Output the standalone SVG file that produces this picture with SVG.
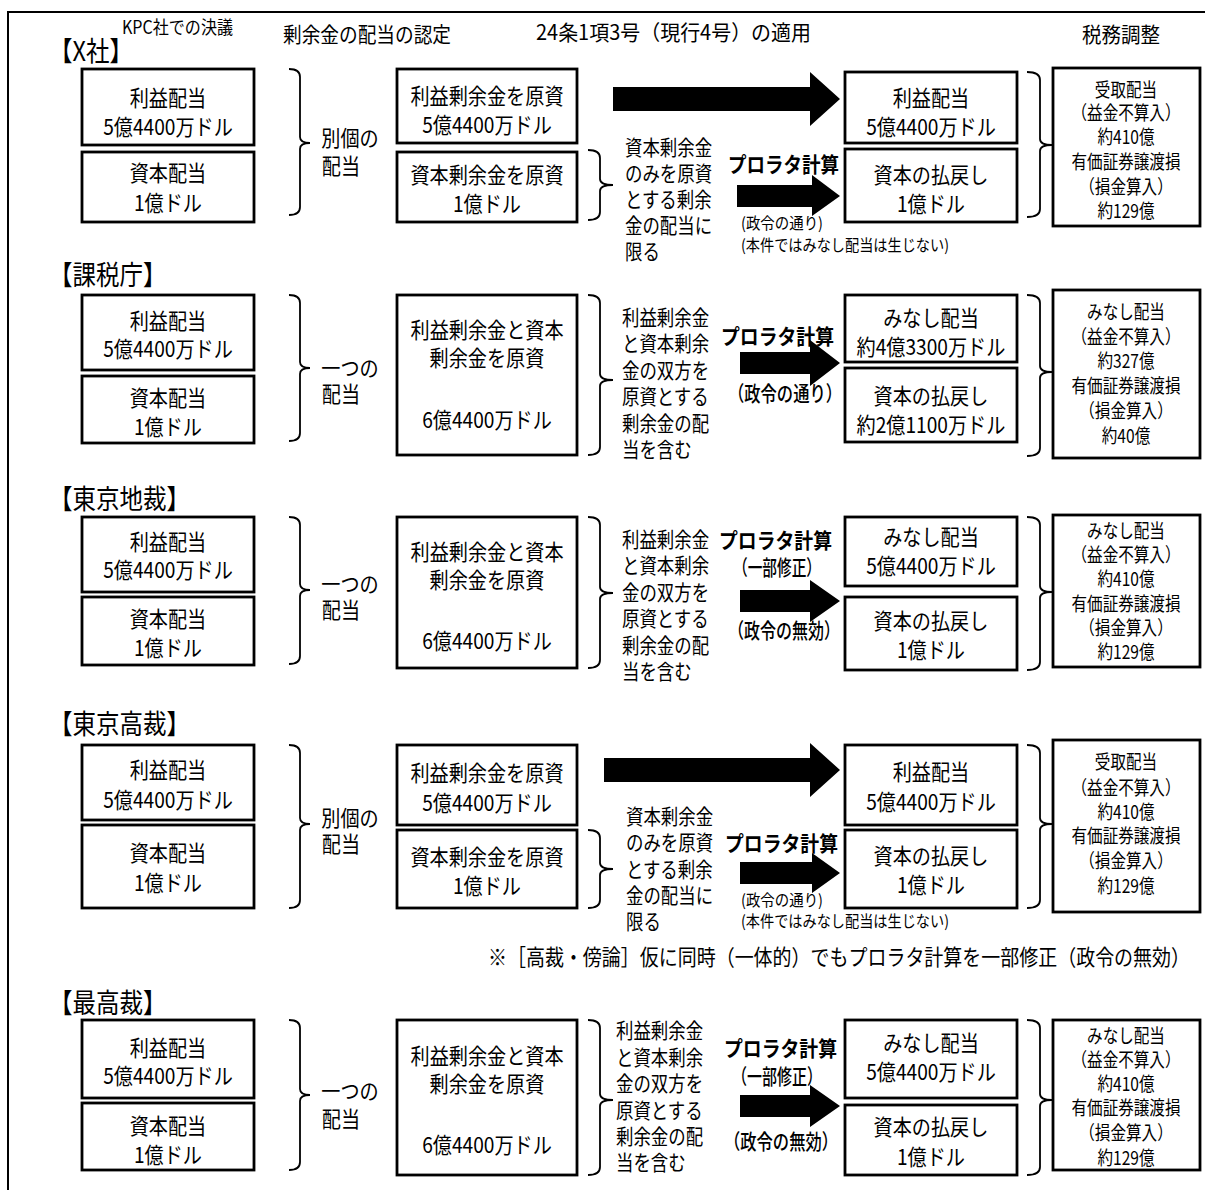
<svg xmlns="http://www.w3.org/2000/svg" width="1205" height="1190" viewBox="0 0 1205 1190">
<style>
text{font-family:"Noto Sans CJK JP","Noto Sans",sans-serif;fill:#000}
.frame{fill:none;stroke:#000;stroke-width:2}
.box{fill:#fff;stroke:#000;stroke-width:2.8}
.br{fill:none;stroke:#000;stroke-width:1.8}
.ar{fill:#000}
.bt{font-size:22px;text-anchor:middle;transform-box:fill-box;transform-origin:center;transform:scaleX(.87)}
.st{font-size:21px;transform-box:fill-box;transform-origin:left;transform:scaleX(.83)}
.tx{font-size:19px;text-anchor:middle;transform-box:fill-box;transform-origin:center;transform:scaleX(.82)}
.tt{font-size:27px;transform-box:fill-box;transform-origin:left;transform:scaleX(.87)}
.hd{font-size:21px}
.kp{font-size:18px}
.pr{font-size:21px;font-weight:700}
.md{font-size:21px;font-weight:500}
.sm{font-size:16px}
.nt{font-size:22px}
</style>
<path class="frame" d="M8,1190 V12 H1205"/>
<g id="headers">
<text class="kp" x="122" y="34" textLength="111" lengthAdjust="spacingAndGlyphs">KPC社での決議</text>
<text class="hd" x="283" y="42" textLength="168" lengthAdjust="spacingAndGlyphs">剰余金の配当の認定</text>
<text class="hd" x="536" y="40" textLength="275" lengthAdjust="spacingAndGlyphs">24条1項3号（現行4号）の適用</text>
<text class="hd" x="1082" y="42" textLength="78" lengthAdjust="spacingAndGlyphs">税務調整</text>
</g>
<g id="connectors">
<!-- row 1 -->
<path class="br" d="M289,69 Q300,69 300,77 V137 Q300,143 310,143 Q300,143 300,149 V207 Q300,215 289,215"/>
<path class="br" d="M588,150 Q600,150 600,158 V179 Q600,185 613,185 Q600,185 600,191 V212 Q600,220 588,220"/>
<path class="br" d="M1027,72 Q1040,72 1040,80 V139 Q1040,145 1052,145 Q1040,145 1040,151 V209 Q1040,217 1027,217"/>
<polygon class="ar" points="613,87 810,87 810,72 840,99 810,126 810,111 613,111"/>
<polygon class="ar" points="737,185 812,185 812,175 840,196 812,216 812,207 737,207"/>
<!-- row 2 -->
<path class="br" d="M289,295 Q300,295 300,303 V362 Q300,368 310,368 Q300,368 300,374 V433 Q300,441 289,441"/>
<path class="br" d="M588,295 Q600,295 600,303 V374 Q600,380 613,380 Q600,380 600,386 V447 Q600,455 588,455"/>
<path class="br" d="M1027,295 Q1040,295 1040,303 V366 Q1040,372 1052,372 Q1040,372 1040,378 V448 Q1040,456 1027,456"/>
<polygon class="ar" points="740,352 810,352 810,340 840,363 810,386 810,374 740,374"/>
<!-- row 3 -->
<path class="br" d="M289,517 Q300,517 300,525 V584 Q300,590 310,590 Q300,590 300,596 V656 Q300,664 289,664"/>
<path class="br" d="M588,517 Q600,517 600,525 V587 Q600,593 613,593 Q600,593 600,599 V660 Q600,668 588,668"/>
<path class="br" d="M1027,517 Q1040,517 1040,525 V586 Q1040,592 1052,592 Q1040,592 1040,598 V662 Q1040,670 1027,670"/>
<polygon class="ar" points="740,590 810,590 810,580 840,601 810,622 810,612 740,612"/>
<!-- row 4 -->
<path class="br" d="M289,745 Q300,745 300,753 V818 Q300,824 310,824 Q300,824 300,830 V900 Q300,908 289,908"/>
<path class="br" d="M588,830 Q600,830 600,838 V863 Q600,869 613,869 Q600,869 600,875 V900 Q600,908 588,908"/>
<path class="br" d="M1027,745 Q1040,745 1040,753 V818 Q1040,824 1052,824 Q1040,824 1040,830 V900 Q1040,908 1027,908"/>
<polygon class="ar" points="604,758 810,758 810,743 840,770 810,797 810,782 604,782"/>
<polygon class="ar" points="740,862 812,862 812,853 840,873 812,893 812,884 740,884"/>
<!-- row 5 -->
<path class="br" d="M289,1020 Q300,1020 300,1028 V1089 Q300,1095 310,1095 Q300,1095 300,1101 V1162 Q300,1170 289,1170"/>
<path class="br" d="M588,1020 Q600,1020 600,1028 V1094 Q600,1100 613,1100 Q600,1100 600,1106 V1167 Q600,1175 588,1175"/>
<path class="br" d="M1027,1020 Q1040,1020 1040,1028 V1094 Q1040,1100 1052,1100 Q1040,1100 1040,1106 V1167 Q1040,1175 1027,1175"/>
<polygon class="ar" points="740,1095 810,1095 810,1085 840,1106 810,1127 810,1117 740,1117"/>
</g>

<!-- ROW 1 : X社 -->
<g id="r1-title"><text class="tt" x="49" y="61">【X社】</text></g>
<g id="r1-l1"><rect class="box" x="82" y="69" width="172" height="76"/><text class="bt" x="168" y="106">利益配当</text><text class="bt" x="168" y="135">5億4400万ドル</text></g>
<g id="r1-l2"><rect class="box" x="82" y="152" width="172" height="70"/><text class="bt" x="168" y="181">資本配当</text><text class="bt" x="168" y="211">1億ドル</text></g>
<g id="r1-kind"><text class="bt" x="350" y="146">別個の</text><text class="bt" x="341" y="174">配当</text></g>
<g id="r1-m1"><rect class="box" x="397" y="69" width="180" height="74"/><text class="bt" x="487" y="104">利益剰余金を原資</text><text class="bt" x="487" y="133">5億4400万ドル</text></g>
<g id="r1-m2"><rect class="box" x="397" y="152" width="180" height="70"/><text class="bt" x="487" y="183">資本剰余金を原資</text><text class="bt" x="487" y="212">1億ドル</text></g>
<g id="r1-side"><text class="st" x="625" y="155">資本剰余金</text><text class="st" x="625" y="181">のみを原資</text><text class="st" x="625" y="207">とする剰余</text><text class="st" x="625" y="233">金の配当に</text><text class="st" x="625" y="259">限る</text></g>
<g id="r1-pro"><text class="pr" x="728" y="172" textLength="111" lengthAdjust="spacingAndGlyphs">プロラタ計算</text>
<text class="sm" x="741" y="229" textLength="82" lengthAdjust="spacingAndGlyphs">(政令の通り)</text>
<text class="sm" x="741" y="251" textLength="208" lengthAdjust="spacingAndGlyphs">(本件ではみなし配当は生じない)</text></g>
<g id="r1-r1"><rect class="box" x="845" y="72" width="172" height="71"/><text class="bt" x="931" y="106">利益配当</text><text class="bt" x="931" y="135">5億4400万ドル</text></g>
<g id="r1-r2"><rect class="box" x="845" y="149" width="172" height="73"/><text class="bt" x="931" y="183">資本の払戻し</text><text class="bt" x="931" y="212">1億ドル</text></g>
<g id="r1-tax"><rect class="box" x="1053" y="68" width="147" height="158"/>
<text class="tx" x="1126" y="97">受取配当</text><text class="tx" x="1126" y="120">（益金不算入）</text><text class="tx" x="1126" y="144">約410億</text><text class="tx" x="1126" y="169">有価証券譲渡損</text><text class="tx" x="1126" y="194">（損金算入）</text><text class="tx" x="1126" y="218">約129億</text></g>

<!-- ROW 2 : 課税庁 -->
<g id="r2-title"><text class="tt" x="49" y="285">【課税庁】</text></g>
<g id="r2-l1"><rect class="box" x="82" y="295" width="172" height="75"/><text class="bt" x="168" y="329">利益配当</text><text class="bt" x="168" y="357">5億4400万ドル</text></g>
<g id="r2-l2"><rect class="box" x="82" y="376" width="172" height="67"/><text class="bt" x="168" y="406">資本配当</text><text class="bt" x="168" y="435">1億ドル</text></g>
<g id="r2-kind"><text class="bt" x="350" y="376">一つの</text><text class="bt" x="341" y="402">配当</text></g>
<g id="r2-m"><rect class="box" x="397" y="295" width="180" height="160"/><text class="bt" x="487" y="338">利益剰余金と資本</text><text class="bt" x="487" y="366">剰余金を原資</text><text class="bt" x="487" y="428">6億4400万ドル</text></g>
<g id="r2-side"><text class="st" x="622" y="325">利益剰余金</text><text class="st" x="622" y="351">と資本剰余</text><text class="st" x="622" y="378">金の双方を</text><text class="st" x="622" y="404">原資とする</text><text class="st" x="622" y="431">剰余金の配</text><text class="st" x="622" y="457">当を含む</text></g>
<g id="r2-pro"><text class="pr" x="721" y="344" textLength="113" lengthAdjust="spacingAndGlyphs">プロラタ計算</text>
<text class="md" x="728" y="401" textLength="114" lengthAdjust="spacingAndGlyphs">（政令の通り）</text></g>
<g id="r2-r1"><rect class="box" x="845" y="295" width="172" height="67"/><text class="bt" x="931" y="326">みなし配当</text><text class="bt" x="931" y="355">約4億3300万ドル</text></g>
<g id="r2-r2"><rect class="box" x="845" y="368" width="172" height="74"/><text class="bt" x="931" y="404">資本の払戻し</text><text class="bt" x="931" y="433">約2億1100万ドル</text></g>
<g id="r2-tax"><rect class="box" x="1053" y="290" width="147" height="168"/>
<text class="tx" x="1126" y="319">みなし配当</text><text class="tx" x="1126" y="344">（益金不算入）</text><text class="tx" x="1126" y="368">約327億</text><text class="tx" x="1126" y="393">有価証券譲渡損</text><text class="tx" x="1126" y="418">（損金算入）</text><text class="tx" x="1126" y="443">約40億</text></g>

<!-- ROW 3 : 東京地裁 -->
<g id="r3-title"><text class="tt" x="49" y="509">【東京地裁】</text></g>
<g id="r3-l1"><rect class="box" x="82" y="517" width="172" height="75"/><text class="bt" x="168" y="550">利益配当</text><text class="bt" x="168" y="578">5億4400万ドル</text></g>
<g id="r3-l2"><rect class="box" x="82" y="597" width="172" height="68"/><text class="bt" x="168" y="627">資本配当</text><text class="bt" x="168" y="656">1億ドル</text></g>
<g id="r3-kind"><text class="bt" x="350" y="592">一つの</text><text class="bt" x="341" y="618">配当</text></g>
<g id="r3-m"><rect class="box" x="397" y="517" width="180" height="151"/><text class="bt" x="487" y="560">利益剰余金と資本</text><text class="bt" x="487" y="588">剰余金を原資</text><text class="bt" x="487" y="649">6億4400万ドル</text></g>
<g id="r3-side"><text class="st" x="622" y="547">利益剰余金</text><text class="st" x="622" y="573">と資本剰余</text><text class="st" x="622" y="600">金の双方を</text><text class="st" x="622" y="626">原資とする</text><text class="st" x="622" y="653">剰余金の配</text><text class="st" x="622" y="679">当を含む</text></g>
<g id="r3-pro"><text class="pr" x="719" y="548" textLength="113" lengthAdjust="spacingAndGlyphs">プロラタ計算</text>
<text class="md" x="733" y="575" textLength="88" lengthAdjust="spacingAndGlyphs">（一部修正）</text>
<text class="md" x="728" y="638" textLength="112" lengthAdjust="spacingAndGlyphs">（政令の無効）</text></g>
<g id="r3-r1"><rect class="box" x="845" y="517" width="172" height="69"/><text class="bt" x="931" y="545">みなし配当</text><text class="bt" x="931" y="574">5億4400万ドル</text></g>
<g id="r3-r2"><rect class="box" x="845" y="597" width="172" height="73"/><text class="bt" x="931" y="629">資本の払戻し</text><text class="bt" x="931" y="658">1億ドル</text></g>
<g id="r3-tax"><rect class="box" x="1053" y="515" width="147" height="152"/>
<text class="tx" x="1126" y="538">みなし配当</text><text class="tx" x="1126" y="562">（益金不算入）</text><text class="tx" x="1126" y="586">約410億</text><text class="tx" x="1126" y="611">有価証券譲渡損</text><text class="tx" x="1126" y="635">（損金算入）</text><text class="tx" x="1126" y="659">約129億</text></g>

<!-- ROW 4 : 東京高裁 -->
<g id="r4-title"><text class="tt" x="49" y="734">【東京高裁】</text></g>
<g id="r4-l1"><rect class="box" x="82" y="745" width="172" height="75"/><text class="bt" x="168" y="778">利益配当</text><text class="bt" x="168" y="808">5億4400万ドル</text></g>
<g id="r4-l2"><rect class="box" x="82" y="825" width="172" height="83"/><text class="bt" x="168" y="861">資本配当</text><text class="bt" x="168" y="891">1億ドル</text></g>
<g id="r4-kind"><text class="bt" x="350" y="826">別個の</text><text class="bt" x="341" y="852">配当</text></g>
<g id="r4-m1"><rect class="box" x="397" y="745" width="180" height="80"/><text class="bt" x="487" y="781">利益剰余金を原資</text><text class="bt" x="487" y="811">5億4400万ドル</text></g>
<g id="r4-m2"><rect class="box" x="397" y="830" width="180" height="78"/><text class="bt" x="487" y="865">資本剰余金を原資</text><text class="bt" x="487" y="894">1億ドル</text></g>
<g id="r4-side"><text class="st" x="626" y="824">資本剰余金</text><text class="st" x="626" y="850">のみを原資</text><text class="st" x="626" y="877">とする剰余</text><text class="st" x="626" y="903">金の配当に</text><text class="st" x="626" y="929">限る</text></g>
<g id="r4-pro"><text class="pr" x="725" y="851" textLength="113" lengthAdjust="spacingAndGlyphs">プロラタ計算</text>
<text class="sm" x="741" y="906" textLength="82" lengthAdjust="spacingAndGlyphs">(政令の通り)</text>
<text class="sm" x="741" y="927" textLength="208" lengthAdjust="spacingAndGlyphs">(本件ではみなし配当は生じない)</text></g>
<g id="r4-r1"><rect class="box" x="845" y="745" width="172" height="80"/><text class="bt" x="931" y="780">利益配当</text><text class="bt" x="931" y="810">5億4400万ドル</text></g>
<g id="r4-r2"><rect class="box" x="845" y="830" width="172" height="78"/><text class="bt" x="931" y="864">資本の払戻し</text><text class="bt" x="931" y="893">1億ドル</text></g>
<g id="r4-tax"><rect class="box" x="1053" y="740" width="147" height="172"/>
<text class="tx" x="1126" y="769">受取配当</text><text class="tx" x="1126" y="795">（益金不算入）</text><text class="tx" x="1126" y="819">約410億</text><text class="tx" x="1126" y="843">有価証券譲渡損</text><text class="tx" x="1126" y="868">（損金算入）</text><text class="tx" x="1126" y="893">約129億</text></g>
<g id="r4-note"><text class="nt" x="488" y="965" textLength="702" lengthAdjust="spacingAndGlyphs">※［高裁・傍論］仮に同時（一体的）でもプロラタ計算を一部修正（政令の無効）</text></g>

<!-- ROW 5 : 最高裁 -->
<g id="r5-title"><text class="tt" x="49" y="1013">【最高裁】</text></g>
<g id="r5-l1"><rect class="box" x="82" y="1020" width="172" height="78"/><text class="bt" x="168" y="1056">利益配当</text><text class="bt" x="168" y="1084">5億4400万ドル</text></g>
<g id="r5-l2"><rect class="box" x="82" y="1103" width="172" height="67"/><text class="bt" x="168" y="1134">資本配当</text><text class="bt" x="168" y="1163">1億ドル</text></g>
<g id="r5-kind"><text class="bt" x="350" y="1099">一つの</text><text class="bt" x="341" y="1127">配当</text></g>
<g id="r5-m"><rect class="box" x="397" y="1020" width="180" height="155"/><text class="bt" x="487" y="1064">利益剰余金と資本</text><text class="bt" x="487" y="1092">剰余金を原資</text><text class="bt" x="487" y="1153">6億4400万ドル</text></g>
<g id="r5-side"><text class="st" x="616" y="1038">利益剰余金</text><text class="st" x="616" y="1065">と資本剰余</text><text class="st" x="616" y="1091">金の双方を</text><text class="st" x="616" y="1118">原資とする</text><text class="st" x="616" y="1144">剰余金の配</text><text class="st" x="616" y="1170">当を含む</text></g>
<g id="r5-pro"><text class="pr" x="724" y="1056" textLength="113" lengthAdjust="spacingAndGlyphs">プロラタ計算</text>
<text class="md" x="732" y="1084" textLength="90" lengthAdjust="spacingAndGlyphs">（一部修正）</text>
<text class="md" x="724" y="1149" textLength="114" lengthAdjust="spacingAndGlyphs">（政令の無効）</text></g>
<g id="r5-r1"><rect class="box" x="845" y="1020" width="172" height="78"/><text class="bt" x="931" y="1051">みなし配当</text><text class="bt" x="931" y="1080">5億4400万ドル</text></g>
<g id="r5-r2"><rect class="box" x="845" y="1105" width="172" height="70"/><text class="bt" x="931" y="1135">資本の払戻し</text><text class="bt" x="931" y="1165">1億ドル</text></g>
<g id="r5-tax"><rect class="box" x="1053" y="1020" width="147" height="150"/>
<text class="tx" x="1126" y="1043">みなし配当</text><text class="tx" x="1126" y="1067">（益金不算入）</text><text class="tx" x="1126" y="1091">約410億</text><text class="tx" x="1126" y="1115">有価証券譲渡損</text><text class="tx" x="1126" y="1140">（損金算入）</text><text class="tx" x="1126" y="1165">約129億</text></g>
</svg>
